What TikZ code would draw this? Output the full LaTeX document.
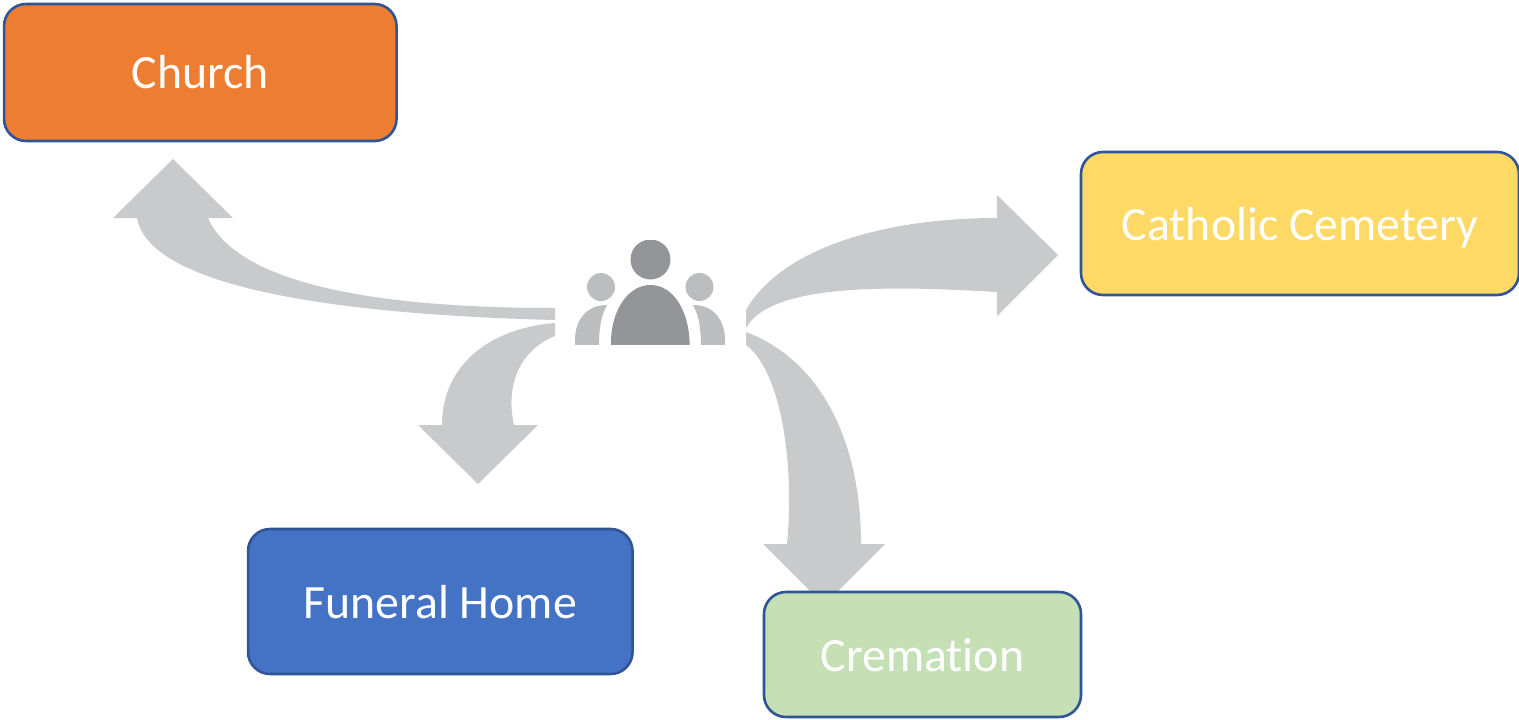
\documentclass[tikz,border=0pt]{standalone}
\usepackage{fontspec}
\setmainfont[Ligatures=NoCommon]{Carlito}
\definecolor{arrowgrey}{HTML}{C9CACC}
\definecolor{edgeblue}{HTML}{2F5597}
\definecolor{orangefill}{HTML}{ED7D31}
\definecolor{bluefill}{HTML}{4472C4}
\definecolor{greenfill}{HTML}{C5E0B4}
\definecolor{yellowfill}{HTML}{FFD966}
\definecolor{persondark}{HTML}{939598}
\definecolor{personlight}{HTML}{BBBDBF}
\tikzset{
  placebox/.style={draw=edgeblue,line width=2.6pt,rounded corners=22pt,text=white,align=center,
    font=\fontsize{47.8}{54}\selectfont,inner sep=0pt,outer sep=0pt},
  blockarrow/.style={fill=arrowgrey,draw=none}
}
\newcommand{\dropby}[2]{\raisebox{-#1}[\height][\depth]{#2}}
\begin{document}
\begin{tikzpicture}[x=1pt,y=-1pt]
\useasboundingbox (0,0) rectangle (1519,720);
% block arrows
\fill[blockarrow] (555,308) .. controls (400,308) and (240,290) .. (208,218) -- (233,218) -- (173,159) -- (113,218) -- (137,218) .. controls (150,290) and (350,315) .. (555,320) -- cycle;
\fill[blockarrow] (555,323) .. controls (490,328) and (442,365) .. (442,425) -- (418,425) -- (478,484) -- (538,425) -- (514,425) .. controls (505,385) and (520,350) .. (555,336) -- cycle;
\fill[blockarrow] (746,310) .. controls (780,250) and (880,218) .. (997,218) -- (997,195) -- (1058,255) -- (997,316) -- (997,292) .. controls (880,285) and (770,285) .. (746,328) -- cycle;
\fill[blockarrow] (746,332) .. controls (820,360) and (861,440) .. (861,544) -- (885,544) -- (824,605) -- (763,544) -- (787,544) .. controls (795,460) and (780,370) .. (746,345) -- cycle;
% people icon
\begin{scope}
\clip (560,240) rectangle (740,344);
\fill[persondark] (650.5,259.5) circle (20);
\fill[persondark] (611,350) -- (611,340) .. controls (612,310) and (628,285) .. (650.5,285) .. controls (673,285) and (688,310) .. (689.5,340) -- (689.5,350) -- cycle;
\fill[personlight] (601,287) circle (14);
\fill[personlight] (699.5,287) circle (14);
\fill[personlight] (575,350) -- (575,338) .. controls (576,320) and (586,305) .. (607,305) .. controls (600,318) and (599,330) .. (599,350) -- cycle;
\fill[personlight] (725,350) -- (725,338) .. controls (724,320) and (714,305) .. (693,305) .. controls (700,318) and (701,330) .. (701,350) -- cycle;
\end{scope}
% boxes
\node[placebox,fill=orangefill,minimum width=392.5pt,minimum height=137pt] (church) at (200.3,72.5) {Church};
\node[placebox,fill=yellowfill,minimum width=438pt,minimum height=143pt] (cemetery) at (1300,223.5) {\dropby{4pt}{Catholic Cemetery}};
\node[placebox,fill=bluefill,minimum width=384.5pt,minimum height=145pt] (funeral) at (440.3,601.5) {\dropby{1pt}{Funeral Home}};
\node[placebox,fill=greenfill,minimum width=317pt,minimum height=125pt] (cremation) at (922.5,654.5) {\dropby{1pt}{Cremation}};
\end{tikzpicture}
\end{document}
